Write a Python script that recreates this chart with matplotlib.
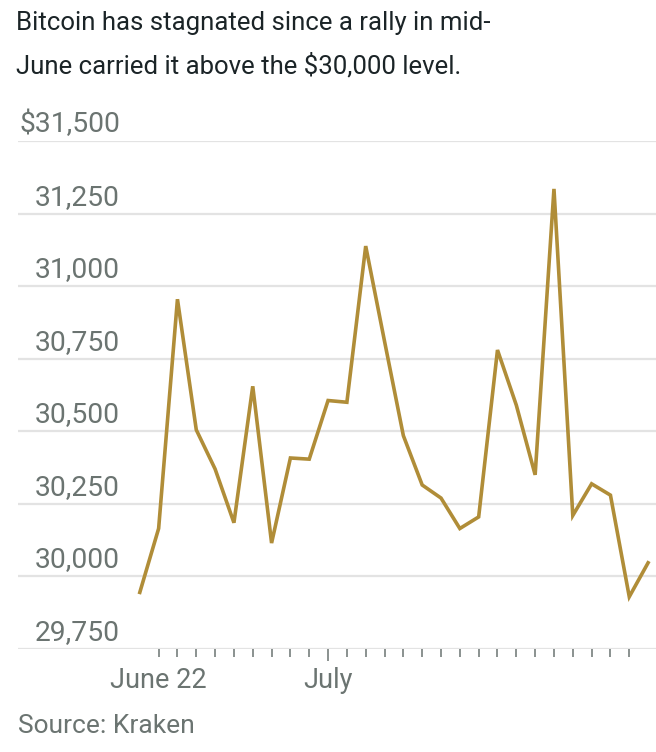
import matplotlib
matplotlib.use("Agg")
import matplotlib.pyplot as plt
import matplotlib.dates as mdates
import matplotlib.transforms as mtransforms
import pandas as pd

# ~~~~~~~~ data ~~~~~~~~
dates = pd.date_range("2023-06-21", "2023-07-18", freq="D")
prices = [29945, 30165, 30955, 30505, 30370, 30185, 30655, 30115, 30408, 30404,
          30606, 30600, 31138, 30810, 30485, 30315, 30270, 30165, 30205, 30780,
          30590, 30350, 31335, 30210, 30319, 30280, 29930, 30047]
y_ticks = [29750, 30000, 30250, 30500, 30750, 31000, 31250, 31500]
y_labels = ["29,750", "30,000", "30,250", "30,500", "30,750", "31,000", "31,250", "$31,500"]
tick_days = pd.date_range("2023-06-22", "2023-07-17", freq="D")
label_days = [pd.Timestamp("2023-06-22"), pd.Timestamp("2023-07-01")]
label_text = ["June 22", "July"]

title_lines = ["Bitcoin has stagnated since a rally in mid-",
               "June carried it above the $30,000 level."]
source = "Source: Kraken"

# ~~~~~~~~ style ~~~~~~~~
plt.rcParams["font.family"] = ["Roboto", "DejaVu Sans"]
LINE = "#b08d38"
GRID = "#e3e3e3"
GREY = "#6b7471"
DARK = "#1b2427"

W, H = 656, 752
fig = plt.figure(figsize=(W / 100, H / 100), dpi=100)
ax = fig.add_axes([18 / W, (H - 649) / H, (656 - 18) / W, (649 - 141) / H])

ax.plot(dates, prices, color=LINE, lw=2.6, solid_joinstyle="miter", zorder=3)

ax.set_ylim(29750, 31500)
d0 = mdates.date2num(pd.Timestamp("2023-06-21"))
ax.set_xlim(d0 - 6.47, d0 + 27.42)

for s in ax.spines.values():
    s.set_visible(False)

ax.set_yticks(y_ticks)
ax.yaxis.grid(True, color=GRID, lw=1.6, zorder=0)
ax.tick_params(axis="y", length=0, labelleft=False)

# y labels sit above their gridlines, right aligned
trans = mtransforms.blended_transform_factory(fig.transFigure, ax.transData)
off = mtransforms.ScaledTranslation(0, 9 / 100, fig.dpi_scale_trans)
for v, lab in zip(y_ticks, y_labels):
    ax.text(120 / W, v, lab, transform=trans + off, ha="right", va="baseline",
            fontsize=20.3, color=GREY, clip_on=False)

# x ticks
ax.set_xticks(mdates.date2num(tick_days), minor=True)
ax.set_xticks(mdates.date2num(label_days))
ax.set_xticklabels(label_text)
ax.tick_params(axis="x", which="minor", length=5.8, width=1.1, color=GREY)
ax.tick_params(axis="x", which="major", length=8.6, width=1.1, color=GREY,
               labelsize=19.5, labelcolor=GREY, pad=4)
ax.xaxis.get_major_ticks()[0].tick1line.set_markersize(5.8)

for i, line in enumerate(title_lines):
    fig.text(16 / W, 1 - (30 + 43.5 * i) / H, line, fontsize=18.5, color=DARK,
             ha="left", va="baseline")
fig.text(18 / W, 1 - 733 / H, source, fontsize=19, color=GREY, ha="left",
         va="baseline")

fig.savefig("out.png", dpi=100)
